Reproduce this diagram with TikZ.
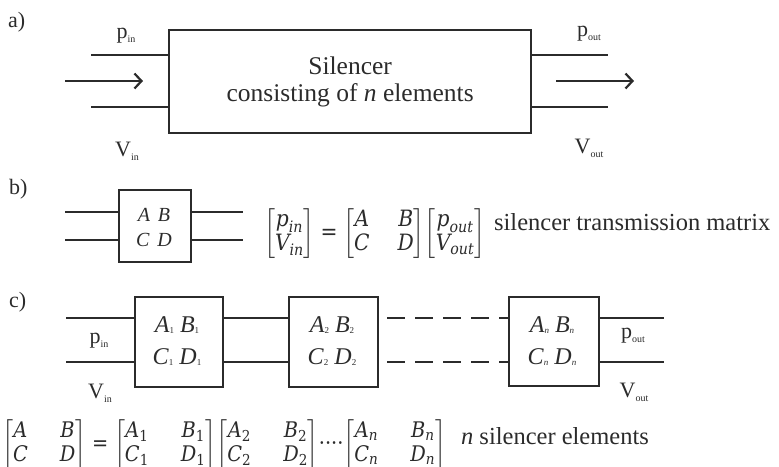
\documentclass[tikz,border=0pt]{standalone}
\usepackage{fontspec}
\setmainfont{Liberation Serif}
\newfontfamily\mathlet{DejaVu Serif Condensed}
\usepackage{amsmath}
\usetikzlibrary{arrows.meta}
\definecolor{ink}{rgb}{0.17,0.17,0.17}
\newcommand\lbl[2]{#1\raisebox{-0.4ex}{\fontsize{10}{10}\selectfont #2}}
\newcommand\sbx[2]{\textit{#1}\raisebox{-0.1ex}{\fontsize{9}{9}\selectfont #2}}
\newcommand\mi[1]{\text{\mathlet\itshape #1}}
\newcommand\mv[2]{\mi{#1}_{\mi{#2}}}
\newcommand\mn[2]{\mi{#1}_{\text{\mathlet #2}}}
\newcommand\meq{\mathrel{\text{\mathlet =}}}
\begin{document}
\begin{tikzpicture}[x=1pt,y=-1pt,color=ink,line width=2.2pt,
  box/.style={draw,line width=2.2pt,inner sep=0pt,anchor=north west},
  wire/.style={line width=2.2pt},
  dwire/.style={line width=2.2pt,dash pattern=on 18pt off 10pt},
  flow/.style={line width=2.2pt,-{Straight Barb[length=7pt,width=15pt,line width=2.2pt]}},
  lab/.style={inner sep=0pt,font=\fontsize{22}{24}\selectfont},
  part/.style={inner sep=0pt,font=\fontsize{22}{24}\selectfont,anchor=north west},
  ctext/.style={inner sep=0pt,align=center,font=\fontsize{24}{32}\selectfont},
  eq/.style={inner sep=0pt,anchor=west,font=\fontsize{21.5}{24}\selectfont},
  eqtext/.style={inner sep=0pt,anchor=base west,font=\fontsize{24.5}{26}\selectfont}]
\useasboundingbox (0,0) rectangle (779,466);
% ---- a)
\node[part] (la) at (7,11) {a)};
\node[box,minimum width=362pt,minimum height=103pt,align=center,
  font=\fontsize{25.5}{27}\selectfont] (A) at (168,29)
  {Silencer\\consisting of \textit{n} elements};
\coordinate (ai1) at (91,55);
\coordinate (ai2) at (91,107);
\coordinate (ao1) at (608,55);
\coordinate (ao2) at (608,107);
\draw[wire] (ai1) -- (ai1 -| A.west);
\draw[wire] (ai2) -- (ai2 -| A.west);
\draw[wire] (A.east |- ao1) -- (ao1);
\draw[wire] (A.east |- ao2) -- (ao2);
\coordinate (fa1) at (65,81);
\coordinate (fa2) at (143,81);
\coordinate (fb1) at (556,81);
\coordinate (fb2) at (634,81);
\draw[flow] (fa1) -- (fa2);
\draw[flow] (fb1) -- (fb2);
\node[lab] (pina) at (126,36) {\lbl{p}{in}};
\node[lab] (vina) at (127,151) {\lbl{V}{in}};
\node[lab] (pouta) at (589,34) {\lbl{p}{out}};
\node[lab] (vouta) at (589,148) {\lbl{V}{out}};
% ---- b)
\node[part] (lb) at (8,178) {b)};
\node[box,minimum width=72pt,minimum height=72pt] (B) at (118,189) {};
\node[ctext,font=\fontsize{20}{25}\selectfont\itshape] (Bt) at (154,227)
  {A\hspace{8pt}B\\C\hspace{8pt}D};
\coordinate (bi1) at (65,212);
\coordinate (bi2) at (65,240);
\coordinate (bo1) at (243,212);
\coordinate (bo2) at (243,240);
\draw[wire] (bi1) -- (bi1 -| B.west);
\draw[wire] (bi2) -- (bi2 -| B.west);
\draw[wire] (B.east |- bo1) -- (bo1);
\draw[wire] (B.east |- bo2) -- (bo2);
\node[eq,font=\fontsize{22.5}{24}\selectfont] (eqb) at (263,234)
  {\setlength\arraycolsep{2pt}$\begin{bmatrix}\mv{p}{in}\\\mv{V}{in}\end{bmatrix}\meq
   \setlength\arraycolsep{14pt}\begin{bmatrix}\mi{A}&\mi{B}\\\mi{C}&\mi{D}\end{bmatrix}\!
   \setlength\arraycolsep{2pt}\begin{bmatrix}\mv{p}{out}\\\mv{V}{out}\end{bmatrix}$};
\node[eqtext] (eqbt) at (493,230) {silencer transmission matrix};
% ---- c)
\node[part] (lc) at (8,291) {c)};
\node[box,minimum width=88pt,minimum height=90pt] (C1) at (134,296) {};
\node[box,minimum width=89pt,minimum height=90pt] (C2) at (288,296) {};
\node[box,minimum width=90pt,minimum height=89pt] (Cn) at (508,296) {};
\node[ctext] (C1t) at (177,341)
  {\sbx{A}{1}\hspace{6pt}\sbx{B}{1}\\\sbx{C}{1}\hspace{6pt}\sbx{D}{1}};
\node[ctext] (C2t) at (332,341)
  {\sbx{A}{2}\hspace{6pt}\sbx{B}{2}\\\sbx{C}{2}\hspace{6pt}\sbx{D}{2}};
\node[ctext] (Cnt) at (552,341)
  {\sbx{A}{\itshape n}\hspace{6pt}\sbx{B}{\itshape n}\\\sbx{C}{\itshape n}\hspace{6pt}\sbx{D}{\itshape n}};
\coordinate (ci1) at (66,318);
\coordinate (ci2) at (66,362);
\coordinate (cd1) at (387,318);
\coordinate (cd2) at (387,362);
\coordinate (co1) at (664,318);
\coordinate (co2) at (664,362);
\draw[wire] (ci1) -- (ci1 -| C1.west);
\draw[wire] (ci2) -- (ci2 -| C1.west);
\draw[wire] (C1.east |- ci1) -- (ci1 -| C2.west);
\draw[wire] (C1.east |- ci2) -- (ci2 -| C2.west);
\draw[dwire] (cd1) -- (cd1 -| Cn.west);
\draw[dwire] (cd2) -- (cd2 -| Cn.west);
\draw[wire] (Cn.east |- co1) -- (co1);
\draw[wire] (Cn.east |- co2) -- (co2);
\node[lab] (pinc) at (99,341) {\lbl{p}{in}};
\node[lab] (vinc) at (100,393) {\lbl{V}{in}};
\node[lab] (poutc) at (633,336) {\lbl{p}{out}};
\node[lab] (voutc) at (634,392) {\lbl{V}{out}};
\node[eq] (eqc) at (1,445)
  {\setlength\arraycolsep{16pt}$\begin{bmatrix}\mi{A}&\mi{B}\\\mi{C}&\mi{D}\end{bmatrix}\meq
   \begin{bmatrix}\mn{A}{1}&\mn{B}{1}\\\mn{C}{1}&\mn{D}{1}\end{bmatrix}\!
   \begin{bmatrix}\mn{A}{2}&\mn{B}{2}\\\mn{C}{2}&\mn{D}{2}\end{bmatrix}\!\text{\mathlet ····}\!
   \begin{bmatrix}\mv{A}{n}&\mv{B}{n}\\\mv{C}{n}&\mv{D}{n}\end{bmatrix}$};
\node[eqtext] (eqct) at (460,444) {\textit{n} silencer elements};
\end{tikzpicture}
\end{document}
